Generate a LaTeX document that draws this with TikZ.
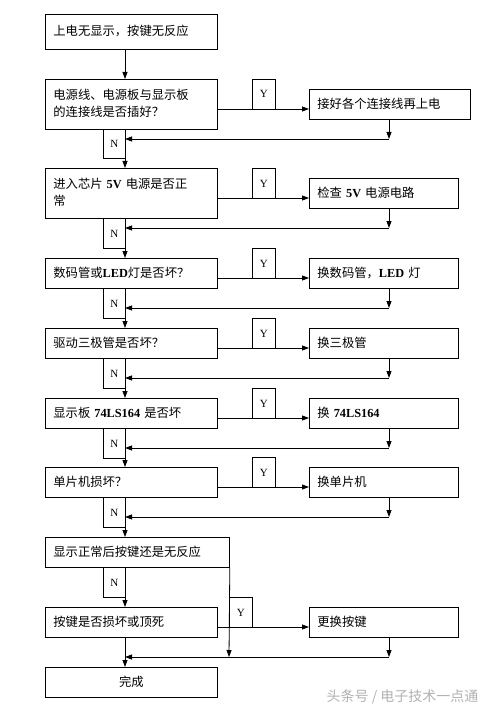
\documentclass[tikz,border=0pt]{standalone}
\usepackage{fontspec}
\setmainfont{Liberation Serif}
\newfontfamily\cjk{Noto Sans CJK SC}
\newfontfamily\latb{Liberation Serif}
\newcommand{\lt}[1]{{\latb\bfseries #1}}
\usetikzlibrary{arrows.meta}
\begin{document}
\begin{tikzpicture}[x=1pt,y=-1pt,
  box/.style={draw,line width=0.8pt,anchor=north west,align=left,inner xsep=8pt,inner ysep=0pt,font=\cjk\fontsize{12.3}{17}\selectfont,minimum height=#1,text height=9pt},
  lab/.style={draw,line width=0.8pt,anchor=north west,minimum width=23pt,inner sep=0pt,font=\fontsize{11}{13}\selectfont},
  arr/.style={line width=0.8pt,-{Triangle[length=7pt,width=5pt]}},
  ln/.style={line width=0.8pt}]
\useasboundingbox (0,0) rectangle (494,714);
\fill[white] (0,0) rectangle (494,714);
% left column
\node[box=35pt,text width=156pt] (b0) at (45,14) {上电无显示，按键无反应};
\node[box=50pt,text width=156pt] (b1) at (45,79) {电源线、电源板与显示板\\的连接线是否插好？};
\node[box=50pt,text width=156pt] (b2) at (45,168) {进入芯片 \lt{5V} 电源是否正\\常};
\node[box=30pt,text width=156pt] (b3) at (45,258) {数码管或\lt{LED}灯是否坏？};
\node[box=30pt,text width=156pt] (b4) at (45,328) {驱动三极管是否坏？};
\node[box=30pt,text width=156pt] (b5) at (45,398) {显示板 \lt{74LS164} 是否坏};
\node[box=30pt,text width=156pt] (b6) at (45,467) {单片机损坏？};
\node[box=30pt,text width=168pt] (b7) at (45,537) {显示正常后按键还是无反应};
\node[box=30pt,text width=156pt] (b8) at (45,607) {按键是否损坏或顶死};
\node[box=30pt,text width=156pt,align=center] (b9) at (45,667) {完成};
% right column
\node[box=30pt,text width=145pt] (r1) at (309,89) {接好各个连接线再上电};
\node[box=30pt,text width=133pt] (r2) at (309,178) {检查 \lt{5V} 电源电路};
\node[box=30pt,text width=133pt] (r3) at (309,258) {换数码管，\lt{LED} 灯};
\node[box=30pt,text width=133pt] (r4) at (309,328) {换三极管};
\node[box=30pt,text width=133pt] (r5) at (309,398) {换 \lt{74LS164}};
\node[box=30pt,text width=133pt] (r6) at (309,467) {换单片机};
\node[box=30pt,text width=133pt] (r8) at (309,607) {更换按键};
% Y labels
\node[lab,minimum height=30pt] (y1) at (252,79) {Y};
\node[lab,minimum height=30pt] (y2) at (252,168) {Y};
\node[lab,minimum height=30pt] (y3) at (252,248) {Y};
\node[lab,minimum height=30pt] (y4) at (252,318) {Y};
\node[lab,minimum height=30pt] (y5) at (252,388) {Y};
\node[lab,minimum height=30pt] (y6) at (252,457) {Y};
\node[lab,minimum height=30pt] (y8) at (229,597) {Y};
% N labels
\node[lab,minimum width=22pt,minimum height=29pt] (n1) at (103,129) {N};
\node[lab,minimum width=22pt,minimum height=30pt] (n2) at (103,218) {N};
\node[lab,minimum width=22pt,minimum height=30pt] (n3) at (103,288) {N};
\node[lab,minimum width=22pt,minimum height=30pt] (n4) at (103,358) {N};
\node[lab,minimum width=22pt,minimum height=30pt] (n5) at (103,428) {N};
\node[lab,minimum width=22pt,minimum height=30pt] (n6) at (103,497) {N};
\node[lab,minimum width=22pt,minimum height=30pt] (n7) at (103,567) {N};
% main flow
\draw[arr] (b0.south -| 125,0) -- (b1.north -| 125,0);
\foreach \a/\b/\r/\y/\ry in {b1/b2/r1/109/139, b2/b3/r2/198/228, b3/b4/r3/278/308, b4/b5/r4/348/378, b5/b6/r5/418/448, b6/b7/r6/487/517}{
  \draw[arr] (\a.south -| 125,0) -- (\b.north -| 125,0);
  \draw[arr] (\a.east |- 0,\y) -- (\r.west |- 0,\y);
  \draw[arr] (\r.south -| 389,0) -- (389,\ry);
  \draw[arr] (389,\ry) -- (125,\ry);
}
\draw[arr] (b7.south -| 125,0) -- (b8.north -| 125,0);
\draw[arr] (b8.east |- 0,627) -- (r8.west |- 0,627);
\draw[arr] (b7.south east) -- (229,657);
\draw[arr] (r8.south -| 389,0) -- (389,657);
\draw[arr] (389,657) -- (125,657);
\draw[arr] (b8.south -| 125,0) -- (b9.north -| 125,0);
\node[font=\cjk\fontsize{14}{16}\selectfont,text=black!30,anchor=east] (wm) at (482,697) {头条号 / 电子技术一点通};
\end{tikzpicture}
\end{document}
